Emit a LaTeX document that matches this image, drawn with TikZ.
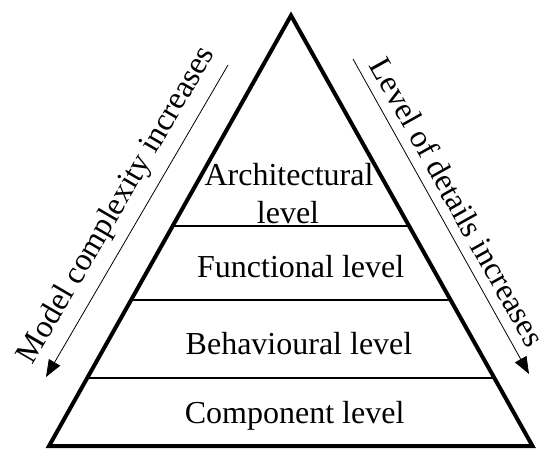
\documentclass[tikz,border=0pt]{standalone}
\usepackage{fontspec}
\setmainfont{Liberation Serif}
\usetikzlibrary{arrows.meta,calc}
\begin{document}
\begin{tikzpicture}[x=1pt,y=-1pt,
  lbl/.style={font=\fontsize{32}{37.7}\selectfont, inner sep=0pt, anchor=base},
  side/.style={line width=4pt, line join=miter},
  divider/.style={line width=2pt},
  trend/.style={line width=0.8pt, -{Triangle[length=17pt,width=13pt]}}]
\useasboundingbox (0,0) rectangle (545,450);
\coordinate (apex) at (291,15.5);
\coordinate (bl) at (49,446);
\coordinate (br) at (532.5,446);
\draw[divider] ($(apex)!0.4883!(bl)$) coordinate (d1l) -- ($(apex)!0.4883!(br)$) coordinate (d1r);
\draw[divider] ($(apex)!0.6609!(bl)$) coordinate (d2l) -- ($(apex)!0.6609!(br)$) coordinate (d2r);
\draw[divider] ($(apex)!0.8420!(bl)$) coordinate (d3l) -- ($(apex)!0.8420!(br)$) coordinate (d3r);
\draw[side] (apex) -- (bl) -- (br) -- cycle;
\node[lbl] (arch) at (289,185) {Architectural};
\node[lbl] (archlvl) at (288,223) {level};
\node[lbl] (func) at (300.7,277) {Functional level};
\node[lbl] (behav) at (299,354.3) {Behavioural level};
\node[lbl] (comp) at (294.6,423.5) {Component level};
\coordinate (l1) at (228,65);
\coordinate (l2) at (46,377);
\draw[trend] (l1) -- (l2);
\node[lbl, rotate=59.7] (lt) at (124,209.4) {Model complexity increases};
\coordinate (r1) at (353,59);
\coordinate (r2) at (529,374);
\draw[trend] (r1) -- (r2);
\node[lbl, rotate=-60.8] (rt) at (448,207.4) {Level of details increases};
\end{tikzpicture}
\end{document}
